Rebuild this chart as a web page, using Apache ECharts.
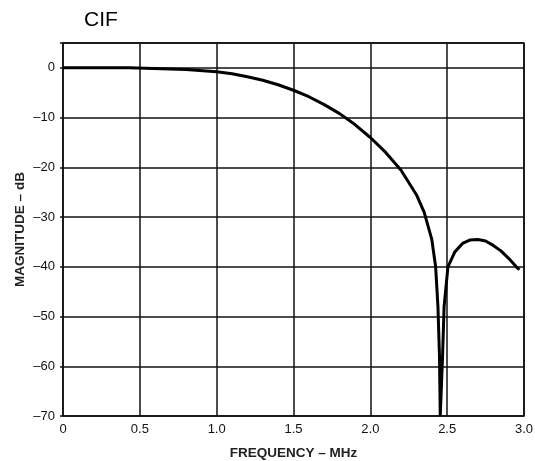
<!DOCTYPE html>
<html>
<head>
<meta charset="utf-8">
<script src="https://cdn.jsdelivr.net/npm/echarts@6/dist/echarts.min.js"></script>
<style>
  html, body { margin: 0; padding: 0; background: #fff; }
  #chart { width: 535px; height: 461px; }
</style>
</head>
<body>
<div id="chart"></div>
<script>
// Frequency response of the CIF filter: magnitude (dB) versus frequency (MHz)
const freqMHz = [0, 0.43, 0.44, 0.8, 0.81, 1.0, 1.1, 1.2, 1.3, 1.4, 1.5, 1.6, 1.7, 1.8, 1.9, 2.0,
  2.1, 2.2, 2.3, 2.35, 2.4, 2.425, 2.44, 2.45, 2.455, 2.465, 2.47, 2.48, 2.505, 2.55, 2.6,
  2.65, 2.7, 2.75, 2.8, 2.85, 2.9, 2.95, 2.97];
const magnitudeDb = [0, 0, -0.3, -0.35, -0.6, -0.8, -1.2, -1.8, -2.5, -3.4, -4.5, -5.8, -7.4, -9.2, -11.4, -14.0,
  -17.0, -20.6, -25.5, -29.0, -34.5, -40.0, -48.0, -58.0, -70.0, -70.0, -58.0, -48.0, -40.0, -37.0, -35.3,
  -34.6, -34.5, -34.8, -35.7, -36.8, -38.3, -40.0, -40.6];
const xTicks = [0, 0.5, 1.0, 1.5, 2.0, 2.5, 3.0];
const xTickLabels = ['0', '0.5', '1.0', '1.5', '2.0', '2.5', '3.0'];
const yTicks = [0, -10, -20, -30, -40, -50, -60, -70];
const yTickLabels = ['0', '–10', '–20', '–30', '–40', '–50', '–60', '–70'];

const points = freqMHz.map((f, i) => [f, magnitudeDb[i]]);
const font = 'Liberation Sans, Arial, sans-serif';

const chart = echarts.init(document.getElementById('chart'), null, { renderer: 'canvas' });
chart.setOption({
  animation: false,
  backgroundColor: '#fff',
  title: {
    text: 'CIF',
    left: 79,
    top: 5,
    textStyle: { fontFamily: font, fontSize: 21, fontWeight: 'normal', color: '#000' }
  },
  grid: {
    left: 63, right: 11, top: 43, bottom: 45,
    containLabel: false,
    outerBoundsMode: 'none',
    show: true, borderColor: '#000', borderWidth: 1.5, backgroundColor: 'transparent'
  },
  xAxis: {
    type: 'value',
    min: 0, max: 3, interval: 0.5,
    name: 'FREQUENCY – MHz',
    nameLocation: 'middle',
    nameGap: 30,
    nameMoveOverlap: false,
    nameTextStyle: { fontFamily: font, fontSize: 13.5, fontWeight: 'bold', color: '#222' },
    axisLine: { show: false },
    axisTick: { show: false },
    axisLabel: {
      margin: 7,
      fontFamily: font, fontSize: 13, color: '#111',
      formatter: v => {
        const i = xTicks.findIndex(t => Math.abs(t - v) < 1e-6);
        return i >= 0 ? xTickLabels[i] : '';
      }
    },
    splitLine: { show: true, lineStyle: { color: '#111', width: 1.5 } }
  },
  yAxis: {
    type: 'value',
    min: -70, max: 5, interval: 10,
    name: 'MAGNITUDE – dB',
    nameLocation: 'middle',
    nameGap: 36,
    nameMoveOverlap: false,
    nameRotate: 90,
    nameTextStyle: { fontFamily: font, fontSize: 13.5, fontWeight: 'bold', color: '#222' },
    axisLine: { show: false },
    axisTick: { show: true, length: 3, lineStyle: { color: '#111', width: 1.5 } },
    axisLabel: {
      margin: 8,
      fontFamily: font, fontSize: 13, color: '#111',
      formatter: v => {
        const i = yTicks.findIndex(t => Math.abs(t - v) < 1e-6);
        return i >= 0 ? yTickLabels[i] : '';
      }
    },
    splitLine: { show: true, lineStyle: { color: '#111', width: 1.5 } }
  },
  series: [{
    type: 'line',
    data: points,
    showSymbol: false,
    smooth: false,
    clip: true,
    lineStyle: { color: '#000', width: 3 },
    z: 5
  }]
});
</script>
</body>
</html>
